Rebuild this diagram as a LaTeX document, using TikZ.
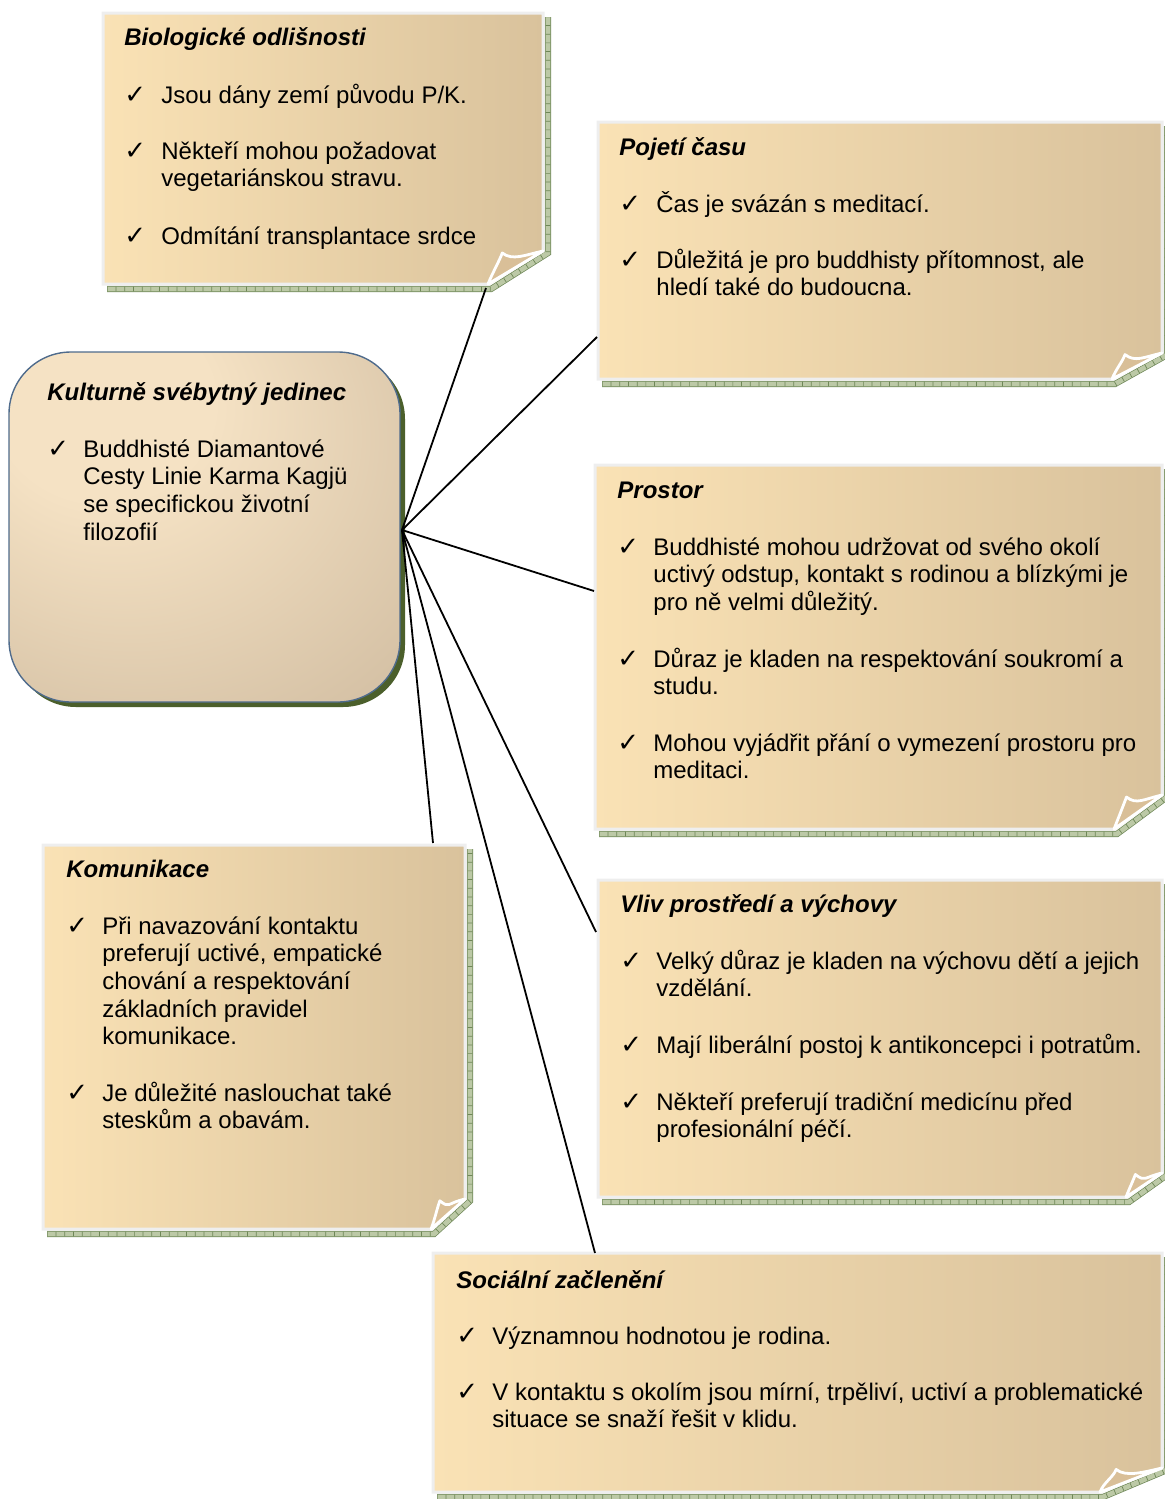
\documentclass[tikz,border=0pt]{standalone}
\usepackage{fontspec}
\setmainfont{Liberation Sans}
\newfontfamily\symfont{DejaVu Sans}

\definecolor{paperL}{HTML}{FAE2B5}
\definecolor{paperR}{HTML}{D9C29C}
\definecolor{frame}{HTML}{EEEEEE}
\definecolor{stripfill}{HTML}{BCC9A6}
\definecolor{stripdark}{HTML}{6E8757}
\definecolor{curlfill}{HTML}{D9BF98}
\definecolor{hubA}{HTML}{F5E2C4}
\definecolor{hubB}{HTML}{D3BFA3}
\definecolor{hubC}{HTML}{B9A88F}
\definecolor{hubedge}{HTML}{4F6B8C}
\definecolor{hubshadow}{HTML}{4B5F2B}

\pgfdeclareradialshading{hubshade}{\pgfpoint{-16bp}{22bp}}{%
  color(0bp)=(hubA); color(14bp)=(hubA); color(45bp)=(hubB); color(72bp)=(hubC)}

% sticky note: fill x1 y1 x2 y2, fold width, fold height
\newcommand\notebox[6]{%
  \draw[stripline] ({#1+4},{#4+5}) -- ({#3-#5+3},{#4+5}) -- ({#3+5},{#4-#6+2}) -- ({#3+5},{#2+4});
  \draw[striptick] ({#1+4},{#4+5}) -- ({#3-#5+3},{#4+5}) -- ({#3+5},{#4-#6+2}) -- ({#3+5},{#2+4});
  \shade[paper] (#1,#2) -- (#3,#2) -- (#3,{#4-#6}) -- ({#3-#5},#4) -- (#1,#4) -- cycle;
  \filldraw[curl] ({#3-#5},#4) .. controls +(4,-10) and +(-3,8) .. ({#3-0.74*#5},{#4-0.94*#6})
     .. controls +(10,8) and +(-18,4) .. (#3,{#4-#6}) -- cycle;
}

% check mark followed by a paragraph of lines (baseline = first line)
\newcommand\tick[5]{%
  \node[txt] (#1-c) at (#2,#4) {\symfont\fontsize{13}{13.85}\selectfont ✓};
  \node[txt] (#1) at (#3,#4) {\begin{tabular}[t]{@{}l@{}}#5\end{tabular}};
}

\begin{document}
\begin{tikzpicture}[x=0.5pt,y=-0.5pt,
  stripline/.style={draw=stripdark,line width=0.35pt,double=stripfill,double distance=2.4pt,line join=miter},
  striptick/.style={draw=stripdark,line width=2.4pt,dash pattern=on 0.35pt off 4pt},
  paper/.style={left color=paperL,right color=paperR,draw=frame,line width=1.5pt},
  curl/.style={draw=white,line width=1.4pt,fill=curlfill,line join=round},
  txt/.style={anchor=base west,inner sep=0pt,font=\fontsize{12}{13.85}\selectfont},
  ttl/.style={txt,font=\fontsize{12}{13.85}\selectfont\bfseries\itshape},
  link/.style={draw=black,line width=0.9pt}]
\useasboundingbox (0,0) rectangle (1164,1499);

% notes
\notebox{103}{13}{543}{284}{55}{33}
\notebox{598}{122}{1162}{379}{50}{26}
\notebox{595}{465}{1162}{829}{48}{34}
\notebox{598}{880}{1162}{1197}{36}{24}
\notebox{43}{845}{465}{1229}{34}{30}
\notebox{433}{1253}{1162}{1492}{62}{24}

% central rounded box
\fill[hubshadow,rounded corners=31pt] (14,357) rectangle (405,707);
\shade[shading=hubshade,draw=hubedge,line width=0.7pt,rounded corners=31pt] (9,352) rectangle (400,702);

% texts
\node[ttl] (bio) at (124,46) {Biologické odlišnosti};
\tick{bio1}{124}{161}{103}{Jsou dány zemí původu P/K.}
\tick{bio2}{124}{161}{159}{Někteří mohou požadovat\\vegetariánskou stravu.}
\tick{bio3}{124}{161}{244}{Odmítání transplantace srdce}

\node[ttl] (cas) at (619,155) {Pojetí času};
\tick{cas1}{619}{656}{212}{Čas je svázán s meditací.}
\tick{cas2}{619}{656}{268}{Důležitá je pro buddhisty přítomnost, ale\\hledí také do budoucna.}

\node[ttl] (pro) at (617,498) {Prostor};
\tick{pro1}{617}{653}{555}{Buddhisté mohou udržovat od svého okolí\\uctivý odstup, kontakt s rodinou a blízkými je\\pro ně velmi důležitý.}
\tick{pro2}{617}{653}{667}{Důraz je kladen na respektování soukromí a\\studu.}
\tick{pro3}{617}{653}{751}{Mohou vyjádřit přání o vymezení prostoru pro\\meditaci.}

\node[ttl] (vl) at (620,912) {Vliv prostředí a výchovy};
\tick{vl1}{620}{656}{969}{Velký důraz je kladen na výchovu dětí a jejich\\vzdělání.}
\tick{vl2}{620}{656}{1053}{Mají liberální postoj k antikoncepci i potratům.}
\tick{vl3}{620}{656}{1110}{Někteří preferují tradiční medicínu před\\profesionální péčí.}

\node[ttl] (kom) at (66,877) {Komunikace};
\tick{kom1}{66}{102}{934}{Při navazování kontaktu\\preferují uctivé, empatické\\chování a respektování\\základních pravidel\\komunikace.}
\tick{kom2}{66}{102}{1101}{Je důležité naslouchat také\\steskům a obavám.}

\node[ttl] (soc) at (456,1288) {Sociální začlenění};
\tick{soc1}{456}{492}{1344}{Významnou hodnotou je rodina.}
\tick{soc2}{456}{492}{1400}{V kontaktu s okolím jsou mírní, trpěliví, uctiví a problematické\\situace se snaží řešit v klidu.}

\node[ttl] (hub) at (47,400) {Kulturně svébytný jedinec};
\tick{hub1}{47}{83}{457}{Buddhisté Diamantové\\Cesty Linie Karma Kagjü\\se specifickou životní\\filozofií}

% connectors
\coordinate (c0) at (402,530);
\coordinate (cbio) at (486,288);
\coordinate (ccas) at (597,337);
\coordinate (cpro) at (594,591);
\coordinate (cvl) at (596,932);
\coordinate (csoc) at (595,1253);
\coordinate (ckom) at (433,843);
\foreach \e in {cbio,ccas,cpro,cvl,csoc,ckom} \draw[link] (c0) -- (\e);
\end{tikzpicture}
\end{document}
